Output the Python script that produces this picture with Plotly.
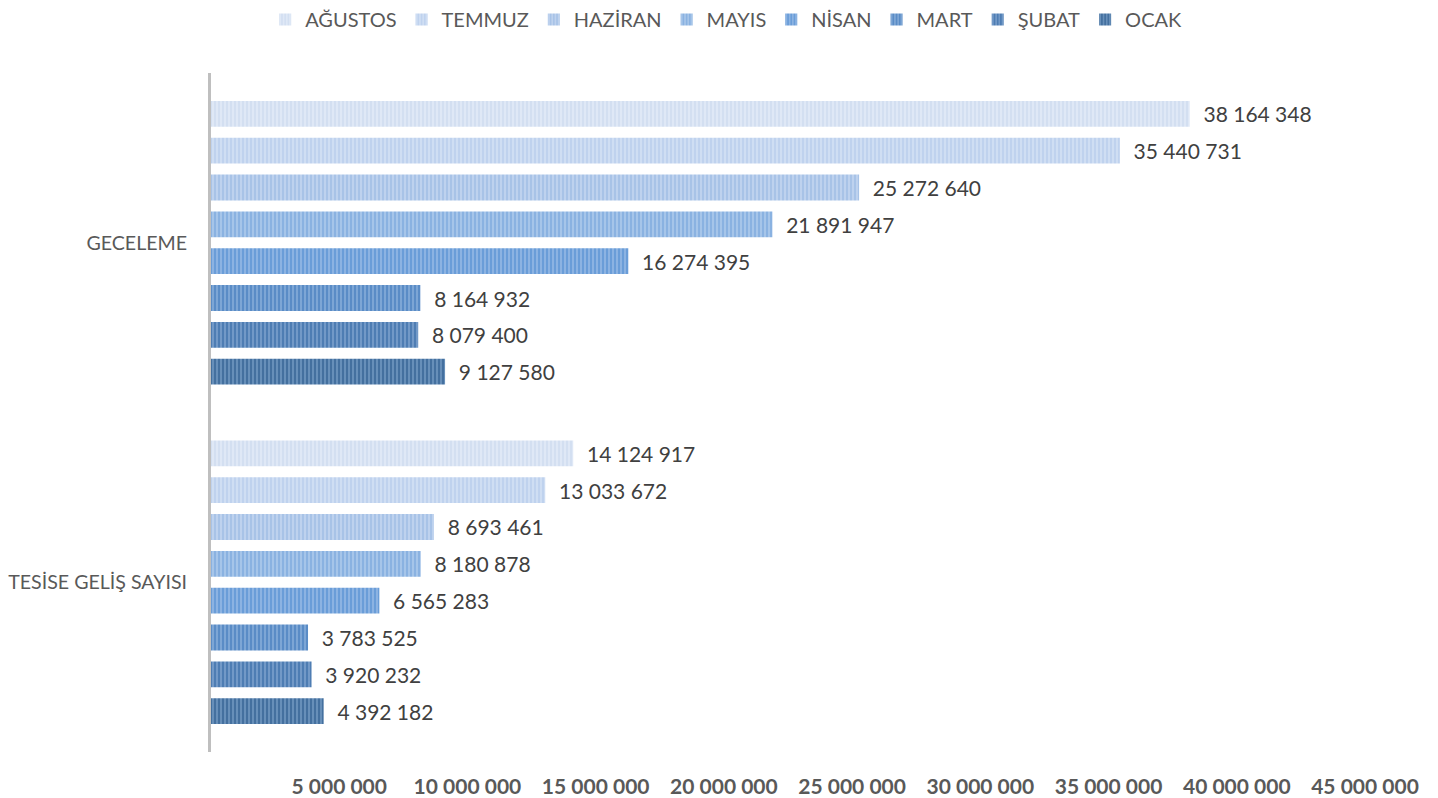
import plotly.graph_objects as go

categories = ["TESİSE GELİŞ SAYISI", "GECELEME"]
months = ["OCAK", "ŞUBAT", "MART", "NİSAN", "MAYIS", "HAZİRAN", "TEMMUZ", "AĞUSTOS"]
# values per month: [TESİSE GELİŞ SAYISI, GECELEME]
values = {
    "OCAK": [4392182, 9127580],
    "ŞUBAT": [3920232, 8079400],
    "MART": [3783525, 8164932],
    "NİSAN": [6565283, 16274395],
    "MAYIS": [8180878, 21891947],
    "HAZİRAN": [8693461, 25272640],
    "TEMMUZ": [13033672, 35440731],
    "AĞUSTOS": [14124917, 38164348],
}
colors = {
    "OCAK": "#44709f",
    "ŞUBAT": "#4e7db3",
    "MART": "#5a8cc6",
    "NİSAN": "#6a9dd8",
    "MAYIS": "#8ab2e1",
    "HAZİRAN": "#a8c3e7",
    "TEMMUZ": "#bfd2ee",
    "AĞUSTOS": "#d3dff1",
}
stripe = {
    "OCAK": "#8aaed4",
    "ŞUBAT": "#95b6dc",
    "MART": "#a0c0e4",
    "NİSAN": "#adc9ec",
    "MAYIS": "#c2d7f1",
    "HAZİRAN": "#d3e1f5",
    "TEMMUZ": "#e0eaf8",
    "AĞUSTOS": "#ecf2fb",
}
tick_vals = [5e6, 10e6, 15e6, 20e6, 25e6, 30e6, 35e6, 40e6, 45e6]
tick_text = ["5 000 000", "10 000 000", "15 000 000", "20 000 000", "25 000 000",
             "30 000 000", "35 000 000", "40 000 000", "45 000 000"]


def fmt(v):
    return "\u00a0\u00a0" + f"{v:,}".replace(",", " ")


fig = go.Figure()
for m in months:
    fig.add_trace(go.Bar(
        name=m,
        y=categories,
        x=values[m],
        orientation="h",
        text=[fmt(v) for v in values[m]],
        textposition="outside",
        textfont=dict(family="Lato, Carlito, sans-serif", size=21, color="#404040"),
        cliponaxis=False,
        marker=dict(
            color=colors[m],
            line=dict(width=0),
            pattern=dict(shape="|", fgcolor=stripe[m], size=4, solidity=0.5),
        ),
    ))

fig.update_layout(
    width=1438,
    height=798,
    paper_bgcolor="white",
    plot_bgcolor="white",
    barmode="group",
    bargap=0.132,
    bargroupgap=0.3,
    margin=dict(l=211, r=73, t=73, b=46, autoexpand=False),
    font=dict(family="Lato, Carlito, sans-serif", color="#595959"),
    legend=dict(
        orientation="h",
        traceorder="reversed",
        xref="container",
        x=0.505,
        xanchor="center",
        yref="container",
        y=1.0,
        yanchor="top",
        font=dict(size=20, color="#595959"),
        itemsizing="constant",
    ),
    xaxis=dict(
        range=[0, 45e6],
        tickvals=tick_vals,
        ticktext=tick_text,
        tickfont=dict(size=21, color="#595959", weight="bold"),
        showgrid=False,
        zeroline=False,
        showline=False,
        ticks="",
        ticklabelstandoff=20,
        automargin=False,
    ),
    yaxis=dict(
        categoryorder="array",
        categoryarray=categories,
        tickfont=dict(size=19.6, color="#595959"),
        showgrid=False,
        zeroline=False,
        showline=True,
        linecolor="#bfbfbf",
        linewidth=3,
        ticks="",
        ticklabelstandoff=17,
        automargin=False,
    ),
)

fig.write_html(
    "out.html",
    config={"displayModeBar": False},
    post_script="document.body.style.margin='0';document.body.style.overflow='hidden';",
)
